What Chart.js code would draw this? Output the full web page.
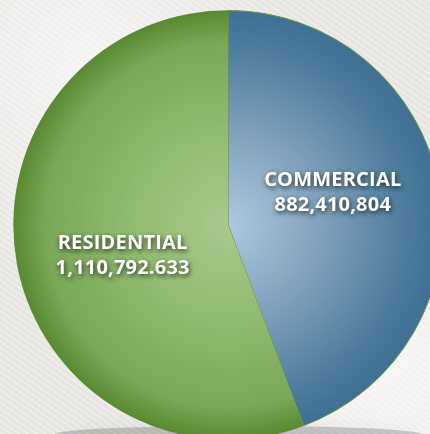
<!DOCTYPE html>
<html>
<head>
<meta charset="utf-8">
<script src="https://cdn.jsdelivr.net/npm/chart.js@4"></script>
<style>
  html, body { margin: 0; padding: 0; width: 430px; height: 434px; overflow: hidden;
    background: #ebe9e6;
    background-image:
      radial-gradient(ellipse at 20% 15%, rgba(255,255,255,0.55) 0, rgba(255,255,255,0) 40%),
      radial-gradient(ellipse at 90% 85%, rgba(255,255,255,0.6) 0, rgba(255,255,255,0) 45%),
      repeating-linear-gradient(35deg, rgba(255,255,255,0.18) 0 2px, rgba(0,0,0,0.015) 2px 5px);
  }
  #wrap { position: absolute; left: 0; top: 0; }
</style>
</head>
<body>
<div id="wrap"><canvas id="c" width="456" height="450"></canvas></div>
<script>
const categories = ["COMMERCIAL", "RESIDENTIAL"];
const values = [882410804, 1110792633];
const valueLabels = ["882,410,804", "1,110,792.633"];

const gradStops = [
  ["#adc9df", "#7f9fba", "#4a7a9c", "#3f7094"],
  ["#a9c98c", "#92ba70", "#7aa758", "#578a2f"]
];

function radialFill(ctx) {
  const idx = ctx.dataIndex;
  const chart = ctx.chart;
  const area = chart.chartArea;
  const s = gradStops[idx] || gradStops[0];
  if (!area) return s[2];
  const cx = (area.left + area.right) / 2;
  const cy = (area.top + area.bottom) / 2;
  const r = Math.min(area.right - area.left, area.bottom - area.top) / 2;
  const g = chart.ctx.createRadialGradient(cx, cy, 0, cx, cy, r);
  g.addColorStop(0, s[0]);
  g.addColorStop(0.45, s[1]);
  g.addColorStop(0.85, s[2]);
  g.addColorStop(1, s[3]);
  return g;
}

const shadowPlugin = {
  id: 'floorShadow',
  beforeDatasetsDraw(chart) {
    const arc = chart.getDatasetMeta(0).data[0];
    if (!arc) return;
    const c = chart.ctx;
    c.save();
    c.fillStyle = 'rgba(0,0,0,0.18)';
    c.shadowColor = 'rgba(0,0,0,0.3)';
    c.shadowBlur = 20;
    c.beginPath();
    c.ellipse(arc.x + 10, arc.y + arc.outerRadius - 6, arc.outerRadius * 0.85, 8, 0, 0, Math.PI * 2);
    c.fill();
    c.restore();
  }
};

const labelPlugin = {
  id: 'sliceLabels',
  afterDatasetsDraw(chart) {
    const meta = chart.getDatasetMeta(0);
    const c = chart.ctx;
    c.save();
    c.textAlign = 'center';
    c.textBaseline = 'middle';
    c.font = 'bold 20px "Open Sans", "Noto Sans", sans-serif';
    if ('letterSpacing' in c) c.letterSpacing = '0.2px';
    meta.data.forEach((arc, i) => {
      const mid = (arc.startAngle + arc.endAngle) / 2 + (i === 0 ? -0.12 : -0.1);
      const r = arc.outerRadius * 0.51;
      const x = arc.x + Math.cos(mid) * r;
      const y = arc.y + Math.sin(mid) * r;
      c.shadowColor = 'rgba(20,30,20,0.85)';
      c.shadowBlur = 5;
      c.shadowOffsetX = 1;
      c.shadowOffsetY = 2;
      c.fillStyle = '#ffffff';
      c.fillText(categories[i], x, y - 12);
      c.fillText(valueLabels[i], x, y + 13);
    });
    c.restore();
  }
};

new Chart(document.getElementById('c'), {
  type: 'pie',
  data: {
    labels: categories,
    datasets: [{
      data: values,
      backgroundColor: radialFill,
      borderColor: '#6a9845',
      borderWidth: [0.6, 0],
      borderAlign: 'inner'
    }]
  },
  options: {
    responsive: false,
    animation: false,
    layout: { padding: { left: 13, top: 10, right: 13, bottom: 10 } },
    plugins: { legend: { display: false }, tooltip: { enabled: false } }
  },
  plugins: [shadowPlugin, labelPlugin]
});
</script>
</body>
</html>
